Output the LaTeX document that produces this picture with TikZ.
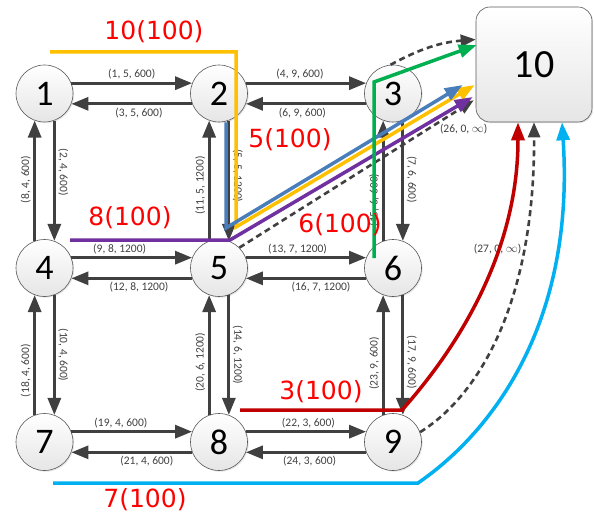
\documentclass[tikz,border=0pt]{standalone}
\usepackage{fontspec}
\setmainfont{Carlito}
\newfontfamily\flowfont{DejaVu Sans}
\usetikzlibrary{arrows.meta, calc, shadows}

\definecolor{arcgray}{HTML}{404040}
\definecolor{fyellow}{HTML}{FFC000}
\definecolor{fblue}{HTML}{4A7EBB}
\definecolor{fpurple}{HTML}{7030A0}
\definecolor{fgreen}{HTML}{00B050}
\definecolor{fred}{HTML}{C00000}
\definecolor{fcyan}{HTML}{00B0F0}

\tikzset{
  vtx/.style={circle, draw=black!65, line width=0.6pt, minimum size=57pt, inner sep=0pt,
    top color=white, bottom color=black!10,
    drop shadow={opacity=0.2, shadow xshift=1.2pt, shadow yshift=-1.2pt},
    font=\fontsize{36}{36}\selectfont},
  sink/.style={rectangle, rounded corners=14pt, draw=black!65, line width=0.6pt,
    minimum width=116pt, minimum height=115pt, inner sep=0pt,
    top color=white, bottom color=black!10,
    drop shadow={opacity=0.2, shadow xshift=1.2pt, shadow yshift=-1.2pt},
    font=\fontsize{40}{40}\selectfont},
  arc/.style={draw=arcgray, line width=3pt, -{Triangle[length=17pt,width=13pt]}},
  virt/.style={draw=arcgray, line width=2.6pt, dash pattern=on 6pt off 4pt,
    -{Triangle[length=15pt,width=12pt]}},
  lbl/.style={font=\fontsize{11.5}{11.5}\selectfont, text=arcgray, inner sep=2.5pt},
  flow/.style={line width=3.5pt, -{Triangle[length=18pt,width=13pt]}},
  flowlbl/.style={font=\flowfont\fontsize{25}{25}\selectfont, text=red, inner sep=0pt},
}

\begin{document}
\begin{tikzpicture}[x=1pt, y=1pt]
\useasboundingbox (0,0) rectangle (594,-513);

\node[vtx] (n1) at (44.5,-93.5) {1};
\node[vtx] (n2) at (219,-93.5) {2};
\node[vtx] (n3) at (393,-93.5) {3};
\node[vtx] (n4) at (44.5,-268) {4};
\node[vtx] (n5) at (219,-268) {5};
\node[vtx] (n6) at (393,-268) {6};
\node[vtx] (n7) at (44.5,-442) {7};
\node[vtx] (n8) at (219,-442) {8};
\node[vtx] (n9) at (393,-442) {9};
\node[sink] (n10) at (534,-64.5) {10};

% horizontal arcs
\draw[arc] (n1.21) -- (n2.159) node[lbl, pos=.5, above] {(1, 5, 600)};
\draw[arc] (n2.-159) -- (n1.-21) node[lbl, pos=.44, below] {(3, 5, 600)};
\draw[arc] (n2.21) -- (n3.159) node[lbl, pos=.45, above] {(4, 9, 600)};
\draw[arc] (n3.-159) -- (n2.-21) node[lbl, pos=.53, below] {(6, 9, 600)};
\draw[arc] (n4.21) -- (n5.159) node[lbl, pos=.4, above] {(9, 8, 1200)};
\draw[arc] (n5.-159) -- (n4.-21) node[lbl, pos=.44, below] {(12, 8, 1200)};
\draw[arc] (n5.21) -- (n6.159) node[lbl, pos=.43, above] {(13, 7, 1200)};
\draw[arc] (n6.-159) -- (n5.-21) node[lbl, pos=.375, below] {(16, 7, 1200)};
\draw[arc] (n7.21) -- (n8.159) node[lbl, pos=.41, above] {(19, 4, 600)};
\draw[arc] (n8.-159) -- (n7.-21) node[lbl, pos=.375, below] {(21, 4, 600)};
\draw[arc] (n8.21) -- (n9.159) node[lbl, pos=.52, above] {(22, 3, 600)};
\draw[arc] (n9.-159) -- (n8.-21) node[lbl, pos=.47, below] {(24, 3, 600)};

% vertical arcs
\draw[arc] (n1.-70) -- (n4.70) node[lbl, pos=.43, rotate=-90, anchor=south] {(2, 4, 600)};
\draw[arc] (n4.110) -- (n1.-110) node[lbl, pos=.51, rotate=90, anchor=south] {(8, 4, 600)};
\draw[arc] (n2.-70) -- (n5.70) node[lbl, pos=.46, rotate=-90, anchor=south] {(5, 5, 1200)};
\draw[arc] (n5.110) -- (n2.-110) node[lbl, pos=.46, rotate=90, anchor=south] {(11, 5, 1200)};
\draw[arc] (n3.-70) -- (n6.70) node[lbl, pos=.49, rotate=-90, anchor=south] {(7, 6, 600)};
\draw[arc] (n6.110) -- (n3.-110) node[lbl, pos=.34, rotate=90, anchor=south] {(15, 6, 600)};
\draw[arc] (n4.-70) -- (n7.70) node[lbl, pos=.5, rotate=-90, anchor=south] {(10, 4, 600)};
\draw[arc] (n7.110) -- (n4.-110) node[lbl, pos=.37, rotate=90, anchor=south] {(18, 4, 600)};
\draw[arc] (n5.-70) -- (n8.70) node[lbl, pos=.5, rotate=-90, anchor=south] {(14, 6, 1200)};
\draw[arc] (n8.110) -- (n5.-110) node[lbl, pos=.44, rotate=90, anchor=south] {(20, 6, 1200)};
\draw[arc] (n6.-70) -- (n9.70) node[lbl, pos=.56, rotate=-90, anchor=south] {(17, 9, 600)};
\draw[arc] (n9.110) -- (n6.-110) node[lbl, pos=.43, rotate=90, anchor=south] {(23, 9, 600)};

% virtual arcs to the sink
\coordinate (t25) at ($(n10.west)+(0,25)$);
\coordinate (t26) at ($(n10.south west)+(-2,22)$);
\draw[virt] (n3.95) to[bend left=12] (t25) node[lbl, pos=.3, above] {(25, 0, $\infty$)};
\draw[virt] (n5.45) -- (t26) node[lbl, at end, below=20pt, xshift=-10pt] {(26, 0, $\infty$)};
\draw[virt] (n9.20) .. controls (480,-395) and (535,-300) .. (n10.south)
  node[lbl, pos=.73, left, inner sep=1pt] {(27, 0, $\infty$)};

% flow paths
\coordinate (fy) at ($(n10.west)+(-1,-20.5)$);
\coordinate (fb) at ($(n10.west)+(-13,-20.5)$);
\coordinate (fp) at ($(n10.west)+(-3,-32.5)$);
\coordinate (fg) at ($(n10.west)+(1,19.5)$);
\coordinate (fr) at ($(n10.south)+(-16,0)$);
\coordinate (fc) at ($(n10.south)+(28,0)$);

\draw[flow, fyellow] (50,-52) -- (236,-52) -- (236,-227) -- (fy);
\draw[flow, fblue] ($(n2.south)+(7,0)$) -- (226,-228) -- (fb);
\draw[flow, fpurple] (70,-240) -- (230,-240) -- (fp);
\draw[flow, fgreen] (374,-258) -- (374,-82) -- (fg);
\draw[flow, fred] (240,-410) -- (402,-410) .. controls (460,-345) and (518,-250) .. (fr);
\draw[flow, fcyan] (53,-483) -- (418,-483) .. controls (495,-430) and (575,-320) .. (fc);

\node[flowlbl] (l10) at (154,-32) {10(100)};
\node[flowlbl] (l5) at (290,-140) {5(100)};
\node[flowlbl] (l8) at (130,-218) {8(100)};
\node[flowlbl] (l6) at (340,-225) {6(100)};
\node[flowlbl] (l3) at (321,-392) {3(100)};
\node[flowlbl] (l7) at (145,-500) {7(100)};
\end{tikzpicture}
\end{document}
